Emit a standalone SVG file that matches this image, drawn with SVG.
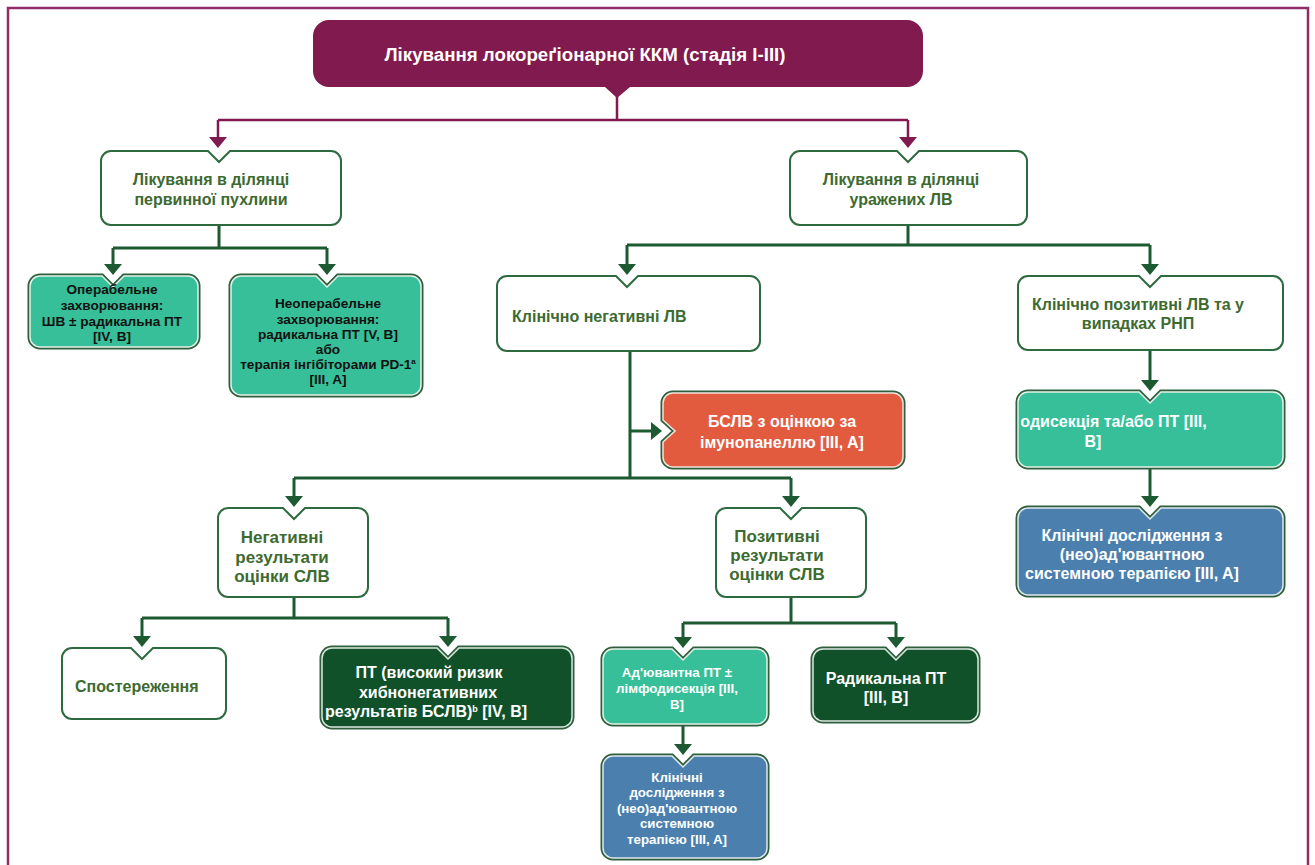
<svg xmlns="http://www.w3.org/2000/svg" width="1315" height="865" viewBox="0 0 1315 865">
<style>
text{font-family:"Liberation Sans",Arial,sans-serif;font-weight:bold}
.wb{fill:#ffffff;stroke:#2e6a3f;stroke-width:2}
.ob{fill:none;stroke:#2f5f3d;stroke-width:5}
.teal{fill:#36bf98;stroke:#e4f2ea;stroke-width:1.5}
.red{fill:#e35b3f;stroke:#f3e4de;stroke-width:1.5}
.blue{fill:#4a7fae;stroke:#e1e9f0;stroke-width:1.5}
.dg{fill:#10512a;stroke:#dce8df;stroke-width:1.5}
.gt{fill:#3d6a2f;font-size:16px}
.gt17{fill:#3d6a2f;font-size:17px}
.wt{fill:#ffffff;font-size:16px}
.wt13{fill:#ffffff;font-size:13.3px}
.bt{fill:#111111;font-size:13.6px}
.pc{fill:none;stroke:#811a4e;stroke-width:2.5}
.gc{fill:none;stroke:#1d5a31;stroke-width:3}
</style>
<defs>
<marker id="ap" markerUnits="userSpaceOnUse" viewBox="0 0 11 18" refX="0" refY="9" markerWidth="11" markerHeight="18" orient="auto">
<path d="M0,0 L11,9 L0,18 Z" fill="#811a4e"/>
</marker>
<marker id="ag" markerUnits="userSpaceOnUse" viewBox="0 0 11 18" refX="0" refY="9" markerWidth="11" markerHeight="18" orient="auto">
<path d="M0,0 L11,9 L0,18 Z" fill="#1d5a31"/>
</marker>
<clipPath id="c16"><rect x="1021" y="395" width="259" height="69"/></clipPath>
</defs>
<rect x="8" y="8" width="1300" height="900" fill="none" stroke="#8e2d66" stroke-width="2.5"/>

<g id="connectors">
<path class="pc" d="M617,96 V120 M218,120 H908"/>
<path class="pc" d="M218,120 V137" marker-end="url(#ap)"/>
<path class="pc" d="M908,120 V137" marker-end="url(#ap)"/>
<path class="gc" d="M219,225 V248 M113,248 H327"/>
<path class="gc" d="M113,248 V264" marker-end="url(#ag)"/>
<path class="gc" d="M327,248 V264" marker-end="url(#ag)"/>
<path class="gc" d="M908,225 V245 M627,245 H1150"/>
<path class="gc" d="M627,245 V264" marker-end="url(#ag)"/>
<path class="gc" d="M1150,245 V264" marker-end="url(#ag)"/>
<path class="gc" d="M630,351 V478"/>
<path class="gc" d="M630,431 H651" marker-end="url(#ag)"/>
<path class="gc" d="M294,478 H791"/>
<path class="gc" d="M294,478 V496" marker-end="url(#ag)"/>
<path class="gc" d="M791,478 V496" marker-end="url(#ag)"/>
<path class="gc" d="M294,597 V618 M142,618 H448"/>
<path class="gc" d="M142,618 V636" marker-end="url(#ag)"/>
<path class="gc" d="M448,618 V636" marker-end="url(#ag)"/>
<path class="gc" d="M791,597 V623 M683,623 H896"/>
<path class="gc" d="M683,623 V637" marker-end="url(#ag)"/>
<path class="gc" d="M896,623 V637" marker-end="url(#ag)"/>
<path class="gc" d="M683,724 V744" marker-end="url(#ag)"/>
<path class="gc" d="M1150,350 V380" marker-end="url(#ag)"/>
<path class="gc" d="M1150,467 V496" marker-end="url(#ag)"/>
</g>

<g id="n1">
<path d="M329,20 H907 A16,16 0 0 1 923,36 V71 A16,16 0 0 1 907,87 H630 L617,98 L605,87 H329 A16,16 0 0 1 313,71 V36 A16,16 0 0 1 329,20 Z" fill="#811a4e"/>
<text x="585" y="61" fill="#ffffff" font-size="18.7" text-anchor="middle">Лікування локореґіонарної ККМ (стадія I-III)</text>
</g>

<g id="n2">
<path class="wb" d="M111,151 H208 L219,162 L230,151 H331 A10,10 0 0 1 341,161 V215 A10,10 0 0 1 331,225 H111 A10,10 0 0 1 101,215 V161 A10,10 0 0 1 111,151 Z"/>
<text class="gt" text-anchor="middle"><tspan x="211" y="185">Лікування в ділянці</tspan><tspan x="211" y="205">первинної пухлини</tspan></text>
</g>

<g id="n3">
<path class="wb" d="M800,151 H897 L908,162 L919,151 H1017 A10,10 0 0 1 1027,161 V215 A10,10 0 0 1 1017,225 H800 A10,10 0 0 1 790,215 V161 A10,10 0 0 1 800,151 Z"/>
<text class="gt" text-anchor="middle"><tspan x="901" y="185">Лікування в ділянці</tspan><tspan x="901" y="205">уражених ЛВ</tspan></text>
</g>

<g id="n4">
<path class="ob" d="M40,276 H102 L113,287 L124,276 H188 A10,10 0 0 1 198,286 V337 A10,10 0 0 1 188,347 H40 A10,10 0 0 1 30,337 V286 A10,10 0 0 1 40,276 Z"/>
<path class="teal" d="M40,276 H102 L113,287 L124,276 H188 A10,10 0 0 1 198,286 V337 A10,10 0 0 1 188,347 H40 A10,10 0 0 1 30,337 V286 A10,10 0 0 1 40,276 Z"/>
<text class="bt" text-anchor="middle"><tspan x="112" y="294">Операбельне</tspan><tspan x="112" y="310">захворювання:</tspan><tspan x="112" y="326">ШВ ± радикальна ПТ</tspan><tspan x="112" y="341">[IV, B]</tspan></text>
</g>

<g id="n5">
<path class="ob" d="M241,276 H316 L327,287 L338,276 H411 A10,10 0 0 1 421,286 V385 A10,10 0 0 1 411,395 H241 A10,10 0 0 1 231,385 V286 A10,10 0 0 1 241,276 Z"/>
<path class="teal" d="M241,276 H316 L327,287 L338,276 H411 A10,10 0 0 1 421,286 V385 A10,10 0 0 1 411,395 H241 A10,10 0 0 1 231,385 V286 A10,10 0 0 1 241,276 Z"/>
<text class="bt" text-anchor="middle"><tspan x="328" y="308">Неоперабельне</tspan><tspan x="328" y="324">захворювання:</tspan><tspan x="328" y="339">радикальна ПТ [V, B]</tspan><tspan x="328" y="354">або</tspan><tspan x="328" y="369">терапія інгібіторами PD-1<tspan font-size="8" dy="-5">a</tspan></tspan><tspan x="328" y="384">[III, A]</tspan></text>
</g>

<g id="n6">
<path class="wb" d="M507,276 H616 L627,287 L638,276 H750 A10,10 0 0 1 760,286 V341 A10,10 0 0 1 750,351 H507 A10,10 0 0 1 497,341 V286 A10,10 0 0 1 507,276 Z"/>
<text class="gt" x="512" y="322">Клінічно негативні ЛВ</text>
</g>

<g id="n7">
<path class="wb" d="M1028,276 H1139 L1150,287 L1161,276 H1273 A10,10 0 0 1 1283,286 V340 A10,10 0 0 1 1273,350 H1028 A10,10 0 0 1 1018,340 V286 A10,10 0 0 1 1028,276 Z"/>
<text class="gt" text-anchor="middle"><tspan x="1138" y="310">Клінічно позитивні ЛВ та у</tspan><tspan x="1138" y="329">випадках РНП</tspan></text>
</g>

<g id="n8">
<path class="ob" d="M673,393 H893 A10,10 0 0 1 903,403 V457 A10,10 0 0 1 893,467 H673 A10,10 0 0 1 663,457 V442 L675,431 L663,420 V403 A10,10 0 0 1 673,393 Z"/>
<path class="red" d="M673,393 H893 A10,10 0 0 1 903,403 V457 A10,10 0 0 1 893,467 H673 A10,10 0 0 1 663,457 V442 L675,431 L663,420 V403 A10,10 0 0 1 673,393 Z"/>
<text class="wt" text-anchor="middle"><tspan x="782" y="427">БСЛВ з оцінкою за</tspan><tspan x="782" y="448">імунопанеллю [III, A]</tspan></text>
</g>

<g id="n16">
<path class="ob" d="M1028,392 H1139 L1150,403 L1161,392 H1273 A10,10 0 0 1 1283,402 V457 A10,10 0 0 1 1273,467 H1028 A10,10 0 0 1 1018,457 V402 A10,10 0 0 1 1028,392 Z"/>
<path class="teal" d="M1028,392 H1139 L1150,403 L1161,392 H1273 A10,10 0 0 1 1283,402 V457 A10,10 0 0 1 1273,467 H1028 A10,10 0 0 1 1018,457 V402 A10,10 0 0 1 1028,392 Z"/>
<text class="wt" text-anchor="middle" clip-path="url(#c16)"><tspan x="1093" y="427">Лімфодисекція та/або ПТ [III,</tspan><tspan x="1093" y="447">B]</tspan></text>
</g>

<g id="n17">
<path class="ob" d="M1028,508 H1139 L1150,519 L1161,508 H1273 A10,10 0 0 1 1283,518 V585 A10,10 0 0 1 1273,595 H1028 A10,10 0 0 1 1018,585 V518 A10,10 0 0 1 1028,508 Z"/>
<path class="blue" d="M1028,508 H1139 L1150,519 L1161,508 H1273 A10,10 0 0 1 1283,518 V585 A10,10 0 0 1 1273,595 H1028 A10,10 0 0 1 1018,585 V518 A10,10 0 0 1 1028,508 Z"/>
<text class="wt" text-anchor="middle"><tspan x="1132" y="541">Клінічні дослідження з</tspan><tspan x="1132" y="560">(нео)ад'ювантною</tspan><tspan x="1132" y="579">системною терапією [III, A]</tspan></text>
</g>

<g id="n9">
<path class="wb" d="M228,508 H283 L294,519 L305,508 H358 A10,10 0 0 1 368,518 V587 A10,10 0 0 1 358,597 H228 A10,10 0 0 1 218,587 V518 A10,10 0 0 1 228,508 Z"/>
<text class="gt17" text-anchor="middle"><tspan x="282" y="543">Негативні</tspan><tspan x="282" y="563">результати</tspan><tspan x="282" y="582">оцінки СЛВ</tspan></text>
</g>

<g id="n10">
<path class="wb" d="M726,508 H780 L791,519 L802,508 H856 A10,10 0 0 1 866,518 V587 A10,10 0 0 1 856,597 H726 A10,10 0 0 1 716,587 V518 A10,10 0 0 1 726,508 Z"/>
<text class="gt17" text-anchor="middle"><tspan x="777" y="542">Позитивні</tspan><tspan x="777" y="561">результати</tspan><tspan x="777" y="580">оцінки СЛВ</tspan></text>
</g>

<g id="n11">
<path class="wb" d="M72,648 H131 L142,659 L153,648 H216 A10,10 0 0 1 226,658 V709 A10,10 0 0 1 216,719 H72 A10,10 0 0 1 62,709 V658 A10,10 0 0 1 72,648 Z"/>
<text class="gt" x="75" y="692">Спостереження</text>
</g>

<g id="n12">
<path class="ob" d="M332,648 H437 L448,659 L459,648 H562 A10,10 0 0 1 572,658 V717 A10,10 0 0 1 562,727 H332 A10,10 0 0 1 322,717 V658 A10,10 0 0 1 332,648 Z"/>
<path class="dg" d="M332,648 H437 L448,659 L459,648 H562 A10,10 0 0 1 572,658 V717 A10,10 0 0 1 562,727 H332 A10,10 0 0 1 322,717 V658 A10,10 0 0 1 332,648 Z"/>
<text class="wt" text-anchor="middle"><tspan x="429" y="678">ПТ (високий ризик</tspan><tspan x="428" y="698">хибнонегативних</tspan><tspan x="426" y="717">результатів БСЛВ)<tspan font-size="9" dy="-5">b</tspan><tspan dy="5"> [IV, B]</tspan></tspan></text>
</g>

<g id="n13">
<path class="ob" d="M613,649 H672 L683,660 L694,649 H757 A10,10 0 0 1 767,659 V714 A10,10 0 0 1 757,724 H613 A10,10 0 0 1 603,714 V659 A10,10 0 0 1 613,649 Z"/>
<path class="teal" d="M613,649 H672 L683,660 L694,649 H757 A10,10 0 0 1 767,659 V714 A10,10 0 0 1 757,724 H613 A10,10 0 0 1 603,714 V659 A10,10 0 0 1 613,649 Z"/>
<text class="wt13" text-anchor="middle"><tspan x="677" y="677">Ад'ювантна ПТ ±</tspan><tspan x="677" y="693">лімфодисекція [III,</tspan><tspan x="677" y="709">B]</tspan></text>
</g>

<g id="n14">
<path class="ob" d="M823,649 H885 L896,660 L907,649 H968 A10,10 0 0 1 978,659 V711 A10,10 0 0 1 968,721 H823 A10,10 0 0 1 813,711 V659 A10,10 0 0 1 823,649 Z"/>
<path class="dg" d="M823,649 H885 L896,660 L907,649 H968 A10,10 0 0 1 978,659 V711 A10,10 0 0 1 968,721 H823 A10,10 0 0 1 813,711 V659 A10,10 0 0 1 823,649 Z"/>
<text class="wt" text-anchor="middle"><tspan x="886" y="684">Радикальна ПТ</tspan><tspan x="886" y="703">[III, B]</tspan></text>
</g>

<g id="n15">
<path class="ob" d="M613,756 H672 L683,767 L694,756 H757 A10,10 0 0 1 767,766 V848 A10,10 0 0 1 757,858 H613 A10,10 0 0 1 603,848 V766 A10,10 0 0 1 613,756 Z"/>
<path class="blue" d="M613,756 H672 L683,767 L694,756 H757 A10,10 0 0 1 767,766 V848 A10,10 0 0 1 757,858 H613 A10,10 0 0 1 603,848 V766 A10,10 0 0 1 613,756 Z"/>
<text class="wt13" text-anchor="middle"><tspan x="677" y="782">Клінічні</tspan><tspan x="677" y="797">дослідження з</tspan><tspan x="677" y="813">(нео)ад'ювантною</tspan><tspan x="677" y="828">системною</tspan><tspan x="677" y="844">терапією [III, A]</tspan></text>
</g>
</svg>
